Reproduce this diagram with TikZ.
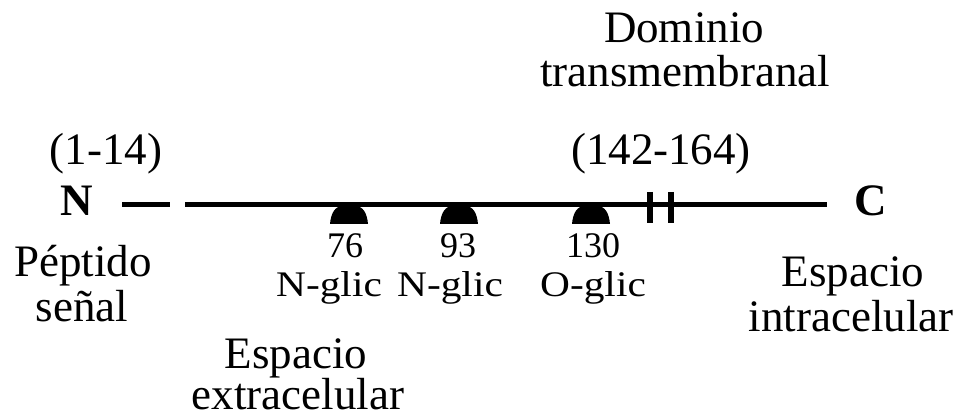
\documentclass[tikz,border=0pt]{standalone}
\usepackage{fontspec}
\usepackage{graphicx}
\setmainfont{Liberation Serif}
\begin{document}
\begin{tikzpicture}[x=1pt,y=-1pt,
  big/.style={font=\fontsize{45}{45}\selectfont, inner sep=0pt, anchor=base},
  small/.style={font=\fontsize{36}{36}\selectfont, inner sep=0pt, anchor=base},
  chain/.style={line width=5pt},
  tmtick/.style={line width=6pt},
  glyc/.style={fill=black}]
\useasboundingbox (0,0) rectangle (962,419);
% labels
\node[big] (dom1) at (684,43) {Dominio};
\node[big] (dom2) at (685,87) {transmembranal};
\node[big] (r1) at (106,165) {(1-14)};
\node[big] (r2) at (661,165) {(142-164)};
\node[big,font=\fontsize{45}{45}\selectfont\bfseries] (N) at (77,216) {N};
\node[big,font=\fontsize{45}{45}\selectfont\bfseries] (C) at (871,216) {C};
\node[big] (pep1) at (83,277) {Péptido};
\node[big] (pep2) at (82,322) {señal};
\node[big] (int1) at (853,287) {Espacio};
\node[big] (int2) at (851,332) {intracelular};
\node[big] (ext1) at (296,369) {Espacio};
\node[big] (ext2) at (298,410) {extracelular};
\node[small] (n76) at (345,258) {76};
\node[small] (n93) at (458,258) {93};
\node[small] (n130) at (593,258) {130};
\node[small] (g76) at (329,297) {\scalebox{1.15}[1]{N-glic}};
\node[small] (g93) at (450,297) {\scalebox{1.15}[1]{N-glic}};
\node[small] (g130) at (593,297) {\scalebox{1.15}[1]{O-glic}};
% chain
\coordinate (sp1) at (122,205);
\coordinate (sp2) at (170,205);
\coordinate (ch1) at (185,205);
\coordinate (ch2) at (827,205);
\draw[chain] (sp1) -- (sp2);
\draw[chain] (ch1) -- (ch2);
% transmembrane ticks
\coordinate (t1a) at (650,192);
\coordinate (t1b) at (650,223);
\coordinate (t2a) at (671,192);
\coordinate (t2b) at (671,223);
\draw[tmtick] (t1a) -- (t1b);
\draw[tmtick] (t2a) -- (t2b);
% glycosylation marks
\foreach \cx in {349,459,591}{
  \fill[glyc] (\cx-19,224) .. controls (\cx-18,213) and (\cx-14,206) .. (\cx-6,206)
     -- (\cx+6,206) .. controls (\cx+14,206) and (\cx+18,213) .. (\cx+19,224) -- cycle;
}
\end{tikzpicture}
\end{document}
